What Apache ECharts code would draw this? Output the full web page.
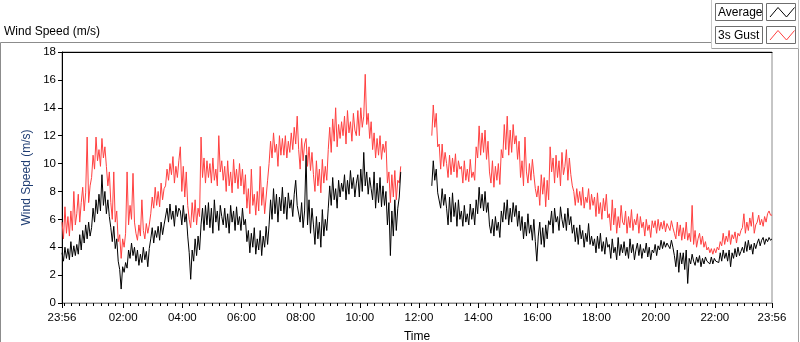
<!DOCTYPE html>
<html>
<head>
<meta charset="utf-8">
<title>Wind Speed (m/s)</title>
<script src="https://cdn.jsdelivr.net/npm/echarts@6/dist/echarts.min.js"></script>
<style>
  html, body { margin: 0; padding: 0; background: #fff; }
  #chart { width: 800px; height: 342px; }
</style>
</head>
<body>
<div id="chart"></div>
<script>
'use strict';

// one reading every 3 min, first one at 23:56 (10 readings per row = 30 min)
// null = no data (logger gap ~11:26-12:43)
const STEP_MIN = 3;

const avgSpeed = [
  3.6, 3.0, 4.0, 3.2, 3.9, 3.1, 4.4, 3.3, 4.1, 3.4,
  4.2, 3.5, 4.9, 3.8, 5.2, 4.3, 5.6, 4.6, 5.8, 4.8,
  5.4, 6.8, 5.8, 7.4, 6.4, 7.8, 6.6, 9.2, 7.0, 8.0,
  6.4, 7.4, 6.2, 5.4, 4.4, 5.5, 3.9, 4.6, 3.0, 2.4,
  1.0, 2.6, 2.2, 2.9, 2.5, 3.8, 3.2, 4.3, 3.4, 4.0,
  3.0, 3.8, 2.7, 3.5, 2.9, 4.0, 3.1, 3.7, 2.6, 3.9,
  4.6, 5.4, 4.3, 5.2, 4.7, 5.5, 4.5, 5.8, 4.9, 5.6,
  5.6, 6.8, 5.8, 7.1, 6.0, 6.6, 5.5, 7.0, 6.2, 6.8,
  6.6, 5.6, 7.0, 5.8, 6.4, 4.8, 3.6, 1.7, 3.8, 3.0,
  4.6, 3.4, 4.8, 3.8, 5.6, 6.8, 5.2, 7.0, 5.6, 7.2,
  5.4, 6.8, 5.0, 7.4, 5.8, 6.6, 5.2, 7.0, 6.2, 5.6,
  6.8, 5.4, 6.4, 5.0, 7.0, 5.8, 6.6, 5.2, 6.9, 5.6,
  6.2, 5.2, 6.8, 5.6, 6.0, 4.4, 5.2, 3.6, 5.0, 4.0,
  5.4, 3.5, 4.6, 3.8, 5.2, 3.4, 4.8, 4.0, 5.5, 4.2,
  5.6, 7.4, 6.0, 8.2, 6.4, 7.8, 5.8, 7.6, 6.6, 8.3,
  6.4, 7.6, 6.0, 7.9, 6.8, 7.4, 6.2, 7.8, 8.8, 7.0,
  7.0, 5.8, 7.2, 5.4, 6.6, 10.6, 5.6, 7.4, 5.0, 6.8,
  5.6, 4.2, 6.2, 4.6, 5.8, 4.0, 6.7, 4.8, 6.0, 5.2,
  6.8, 8.4, 7.0, 9.0, 7.4, 8.2, 6.8, 8.8, 7.6, 8.6,
  8.0, 9.2, 7.4, 8.8, 7.8, 9.5, 8.2, 9.0, 7.6, 8.6,
  9.2, 7.6, 9.6, 8.0, 10.8, 8.4, 9.4, 7.8, 9.0, 8.2,
  7.4, 9.4, 6.8, 8.6, 7.2, 9.0, 6.9, 8.4, 7.0, 8.0,
  5.6, 7.2, 3.4, 6.6, 4.8, 7.4, 5.2, 6.8, 7.6, 9.4,
  null, null, null, null, null, null, null, null, null, null,
  null, null, null, null, null, null, null, null, null, null,
  8.4, 10.2, 8.8, 9.6, 7.9, 8.0, 6.8, 8.2, 7.0, 7.8,
  6.8, 5.6, 7.6, 5.8, 7.9, 6.2, 7.2, 5.5, 7.4, 6.0,
  6.6, 5.5, 7.0, 5.8, 6.4, 5.6, 7.1, 6.0, 6.8, 5.6,
  7.4, 6.4, 8.3, 6.8, 7.8, 6.6, 8.0, 6.5, 7.2, 5.6,
  5.0, 6.0, 4.8, 6.2, 5.2, 5.8, 4.7, 6.6, 5.8, 7.2,
  6.0, 7.4, 5.6, 6.8, 5.8, 7.2, 6.2, 7.0, 5.5, 6.6,
  5.2, 6.2, 4.6, 5.8, 4.8, 6.4, 5.0, 5.6, 4.5, 6.0,
  4.4, 3.0, 4.8, 5.8, 4.2, 5.4, 4.0, 5.6, 4.6, 5.9,
  5.6, 6.6, 5.0, 6.8, 5.8, 6.2, 5.2, 6.9, 6.0, 5.4,
  6.4, 5.2, 6.8, 5.6, 6.2, 5.0, 5.6, 4.4, 5.4, 4.2,
  5.6, 4.6, 5.2, 4.0, 5.0, 4.4, 5.7, 4.2, 4.8, 4.1,
  4.6, 3.6, 4.8, 3.9, 5.0, 3.7, 4.4, 3.5, 4.7, 4.0,
  4.2, 3.2, 4.6, 3.6, 4.0, 3.1, 4.7, 3.4, 4.2, 3.6,
  4.4, 3.4, 4.0, 3.2, 4.6, 3.6, 4.2, 3.1, 3.8, 4.3,
  3.4, 4.2, 3.2, 3.9, 3.6, 4.3, 3.3, 4.0, 3.1, 3.8,
  3.6, 4.2, 3.4, 4.1, 3.8, 4.5, 3.9, 4.4, 4.0, 4.3,
  4.2, 3.9, 4.5, 4.0, 3.4, 2.6, 3.8, 2.2, 3.6, 2.8,
  3.6, 2.4, 3.8, 1.4, 3.2, 2.8, 3.5, 3.0, 2.7, 3.3,
  2.9, 3.4, 2.6, 3.2, 2.8, 3.3, 3.0, 3.1, 2.8, 3.3,
  2.8, 3.2, 3.0, 3.1, 2.9, 3.6, 3.0, 3.8, 3.2, 3.6,
  3.0, 3.8, 2.6, 3.6, 3.2, 3.9, 3.3, 4.0, 3.4, 3.7,
  4.0, 3.6, 4.4, 3.7, 4.5, 3.8, 4.2, 3.5, 4.3, 3.9,
  4.3, 4.6, 4.1, 4.5, 4.7, 4.2, 4.6, 4.4, 4.7, 4.5,
  4.6
];

const gustSpeed = [
  5.8, 4.6, 6.9, 5.0, 6.2, 4.8, 6.6, 5.2, 8.0, 5.6,
  6.4, 7.8, 5.8, 7.2, 8.3, 6.6, 7.9, 11.9, 7.2, 8.4,
  9.0, 10.6, 9.6, 11.9, 10.2, 11.0, 9.8, 11.8, 10.4, 11.2,
  9.8, 8.4, 9.4, 7.2, 6.0, 9.4, 5.8, 6.6, 4.4, 4.9,
  3.2, 4.6, 4.0, 5.0, 9.4, 5.6, 7.0, 6.0, 9.3, 5.8,
  5.0, 4.5, 5.6, 4.8, 7.4, 5.2, 4.6, 5.7, 5.0, 5.6,
  6.4, 7.6, 6.8, 8.3, 7.0, 8.0, 6.9, 8.6, 7.4, 8.2,
  8.4, 9.6, 8.8, 10.0, 9.2, 10.5, 8.6, 9.8, 9.0, 10.2,
  11.2, 8.0, 9.8, 7.6, 9.4, 7.0, 6.0, 5.4, 7.2, 5.8,
  7.4, 5.6, 6.8, 6.2, 11.9, 9.0, 10.4, 8.6, 10.2, 9.0,
  10.0, 8.6, 10.4, 8.8, 9.6, 8.4, 12.0, 9.4, 10.2, 8.8,
  9.8, 8.0, 10.2, 8.4, 9.4, 7.9, 10.3, 8.6, 9.6, 8.2,
  10.0, 8.4, 9.6, 7.8, 9.2, 6.8, 8.2, 6.4, 9.6, 7.0,
  7.8, 6.3, 8.0, 6.6, 9.8, 7.0, 8.3, 6.4, 7.6, 8.8,
  10.0, 11.6, 10.4, 12.2, 10.8, 11.4, 9.8, 12.0, 10.6, 11.8,
  10.6, 12.0, 10.4, 11.6, 10.8, 12.2, 11.0, 12.6, 11.4, 13.4,
  11.0, 9.6, 11.8, 10.2, 11.4, 11.8, 9.8, 11.2, 9.5, 10.8,
  9.2, 8.0, 10.2, 8.4, 9.6, 7.9, 10.3, 8.6, 9.8, 8.8,
  11.0, 12.6, 10.8, 13.2, 11.6, 14.0, 11.2, 12.8, 11.8, 13.0,
  12.0, 13.4, 11.4, 13.8, 12.2, 13.0, 11.6, 13.6, 12.4, 12.0,
  13.8, 12.0, 14.0, 12.6, 13.4, 16.4, 12.8, 13.6, 11.8, 13.0,
  11.0, 12.2, 10.4, 11.8, 10.6, 12.0, 10.3, 11.4, 10.8, 11.6,
  8.6, 9.4, 7.2, 9.2, 7.6, 9.5, 7.4, 8.8, 8.6, 9.8,
  null, null, null, null, null, null, null, null, null, null,
  null, null, null, null, null, null, null, null, null, null,
  12.0, 14.2, 12.6, 13.6, 11.2, 11.4, 9.6, 11.4, 9.8, 10.8,
  10.0, 9.0, 10.6, 9.2, 10.4, 9.4, 10.7, 9.0, 10.2, 9.6,
  9.8, 8.6, 10.2, 8.8, 9.6, 8.7, 10.3, 9.0, 9.4, 8.8,
  11.2, 10.4, 12.7, 10.6, 12.2, 10.8, 12.4, 10.3, 11.6, 9.4,
  8.6, 10.2, 8.3, 9.8, 8.8, 10.0, 8.5, 11.0, 10.4, 12.8,
  11.0, 13.4, 10.6, 12.4, 10.8, 12.8, 11.4, 12.0, 10.3, 11.6,
  9.0, 10.2, 8.4, 11.9, 9.4, 8.6, 10.0, 8.8, 10.3, 9.2,
  8.2, 7.6, 8.4, 7.0, 9.2, 7.8, 9.0, 6.9, 8.8, 7.4,
  11.2, 9.4, 10.4, 8.6, 10.6, 9.0, 10.2, 8.4, 10.8, 9.2,
  9.8, 11.0, 8.8, 10.4, 9.2, 8.4, 8.0, 7.0, 8.2, 7.2,
  8.0, 7.0, 8.3, 6.8, 7.6, 7.2, 8.2, 6.7, 7.8, 7.0,
  7.6, 6.2, 7.9, 6.4, 7.2, 6.0, 7.5, 6.6, 7.8, 6.1,
  6.4, 5.2, 7.4, 5.6, 6.8, 5.0, 6.2, 5.4, 7.0, 5.8,
  5.6, 6.6, 5.0, 6.2, 5.4, 6.7, 5.2, 6.0, 5.6, 6.4,
  5.0, 6.2, 5.4, 5.8, 4.8, 6.0, 5.2, 5.6, 4.7, 5.9,
  5.4, 5.9, 5.0, 6.0, 5.2, 5.8, 5.3, 5.9, 5.1, 5.7,
  5.6, 5.2, 5.9, 5.4, 5.0, 4.6, 5.8, 4.8, 5.6, 4.5,
  5.4, 4.6, 5.8, 4.5, 5.0, 4.4, 7.0, 4.2, 5.2, 4.0,
  4.6, 5.0, 4.2, 4.8, 4.0, 4.4, 3.8, 4.0, 3.6, 3.9,
  3.5, 3.9, 3.6, 4.0, 3.8, 4.4, 4.1, 5.0, 4.2, 4.8,
  4.4, 5.2, 4.2, 4.9, 4.6, 5.1, 4.3, 5.0, 4.8, 5.2,
  5.4, 6.4, 5.0, 5.8, 5.2, 6.1, 5.5, 6.5, 5.0, 5.6,
  5.8, 6.3, 5.6, 6.0, 5.5, 6.2, 5.8, 6.4, 6.6, 6.3,
  6.3
];

// x axis is minutes since 23:56
const tickMinutes = [0, 124, 244, 364, 484, 604, 724, 844, 964, 1084, 1204, 1324, 1440];
const tickLabels = ['23:56', '02:00', '04:00', '06:00', '08:00', '10:00', '12:00',
  '14:00', '16:00', '18:00', '20:00', '22:00', '23:56'];

// minor ticks every quarter hour, from 00:00
const minorTicks = [];
for (let m = 4; m < 1440; m += 15) minorTicks.push(m);

const FONT = 'Liberation Sans';
const chart = echarts.init(document.getElementById('chart'), null, { renderer: 'canvas' });

const toPairs = (arr) => arr.map((v, i) => [i * STEP_MIN, v]);

chart.setOption({
  animation: false,
  backgroundColor: '#fff',
  textStyle: { fontFamily: FONT },
  title: {
    text: 'Wind Speed (m/s)', left: 4, top: 26, padding: 0,
    textStyle: { fontSize: 12, fontWeight: 'normal', color: '#000', fontFamily: FONT }
  },
  grid: {
    left: 62, top: 52, width: 710, height: 251,
    outerBoundsMode: 'none', containLabel: false,
    show: true, borderColor: '#8c8c8c', borderWidth: 1, backgroundColor: '#fff'
  },
  xAxis: [
    {
      type: 'value', min: 0, max: 1440, position: 'bottom',
      name: 'Time', nameLocation: 'middle', nameGap: 28,
      nameTextStyle: { color: '#000', fontSize: 12, fontFamily: FONT },
      axisLine: { lineStyle: { color: '#8c8c8c', width: 1 } },
      axisTick: { customValues: tickMinutes, length: 5, lineStyle: { color: '#000' } },
      axisLabel: {
        customValues: tickMinutes, margin: 9, color: '#000', fontSize: 11.5, fontFamily: FONT,
        formatter: (v) => tickLabels[tickMinutes.indexOf(v)]
      },
      splitLine: { show: false }
    },
    {
      type: 'value', min: 0, max: 1440, position: 'bottom',
      axisLine: { show: false },
      axisTick: { customValues: minorTicks, length: 3, lineStyle: { color: '#000' } },
      axisLabel: { show: false },
      splitLine: { show: false }
    },
    {
      type: 'value', min: 0, max: 1440, position: 'top',
      axisLine: { lineStyle: { color: '#000', width: 1 } },
      axisTick: { show: false }, axisLabel: { show: false }, splitLine: { show: false }
    }
  ],
  yAxis: {
    type: 'value', min: 0, max: 18, interval: 2,
    name: 'Wind Speed (m/s)', nameLocation: 'middle', nameGap: 24,
    nameTextStyle: { color: '#1f3d73', fontSize: 12, fontFamily: FONT },
    axisLine: { show: true, lineStyle: { color: '#000', width: 1 } },
    axisTick: { show: true, length: 4, lineStyle: { color: '#000' } },
    axisLabel: { margin: 6, color: '#000', fontSize: 11.5, fontFamily: FONT },
    splitLine: { show: false }
  },
  series: [
    {
      name: 'Average', type: 'line', xAxisIndex: 0, data: toPairs(avgSpeed),
      showSymbol: false, connectNulls: false, z: 3,
      lineStyle: { color: '#000', width: 1 }
    },
    {
      name: '3s Gust', type: 'line', xAxisIndex: 0, data: toPairs(gustSpeed),
      showSymbol: false, connectNulls: false, z: 2,
      lineStyle: { color: '#ff4040', width: 1 }
    }
  ],
  graphic: [
    // outer control frame
    { type: 'polyline', silent: true, shape: { points: [[0.5, 342], [0.5, 42.5], [711.5, 42.5]] },
      style: { stroke: '#8c8c8c', fill: null, lineWidth: 1 } },
    { type: 'polyline', silent: true, shape: { points: [[711.5, 48.5], [798.5, 48.5], [798.5, 342]] },
      style: { stroke: '#a0a0a0', fill: null, lineWidth: 1 } },
    { type: 'line', silent: true, shape: { x1: 711.5, y1: 0, x2: 711.5, y2: 48.5 },
      style: { stroke: '#c8c8c8', lineWidth: 1 } },
    { type: 'line', silent: true, shape: { x1: 798.5, y1: 0, x2: 798.5, y2: 48.5 },
      style: { stroke: '#c8c8c8', lineWidth: 1 } },
    // legend: Average
    { type: 'rect', silent: true, shape: { x: 715.5, y: 3.5, width: 47, height: 17 },
      style: { fill: '#fff', stroke: '#6e6e6e', lineWidth: 1 } },
    { type: 'text', silent: true, x: 718, y: 12.5,
      style: { text: 'Average', fill: '#000', font: '12px "Liberation Sans"', verticalAlign: 'middle' } },
    { type: 'rect', silent: true, shape: { x: 766.5, y: 3.5, width: 29, height: 17 },
      style: { fill: '#fff', stroke: '#6e6e6e', lineWidth: 1 } },
    { type: 'polyline', silent: true,
      shape: { points: [[770, 17], [778, 7.5], [786.5, 17], [794.5, 7.5]] },
      style: { stroke: '#000', fill: null, lineWidth: 1 } },
    // legend: 3s Gust
    { type: 'rect', silent: true, shape: { x: 715.5, y: 26.5, width: 47, height: 17 },
      style: { fill: '#fff', stroke: '#6e6e6e', lineWidth: 1 } },
    { type: 'text', silent: true, x: 718, y: 35.5,
      style: { text: '3s Gust', fill: '#000', font: '12px "Liberation Sans"', verticalAlign: 'middle' } },
    { type: 'rect', silent: true, shape: { x: 766.5, y: 26.5, width: 29, height: 17 },
      style: { fill: '#fff', stroke: '#6e6e6e', lineWidth: 1 } },
    { type: 'polyline', silent: true,
      shape: { points: [[770, 40], [778, 30.5], [786.5, 40], [794.5, 30.5]] },
      style: { stroke: '#ff4040', fill: null, lineWidth: 1 } }
  ]
});
</script>
</body>
</html>
